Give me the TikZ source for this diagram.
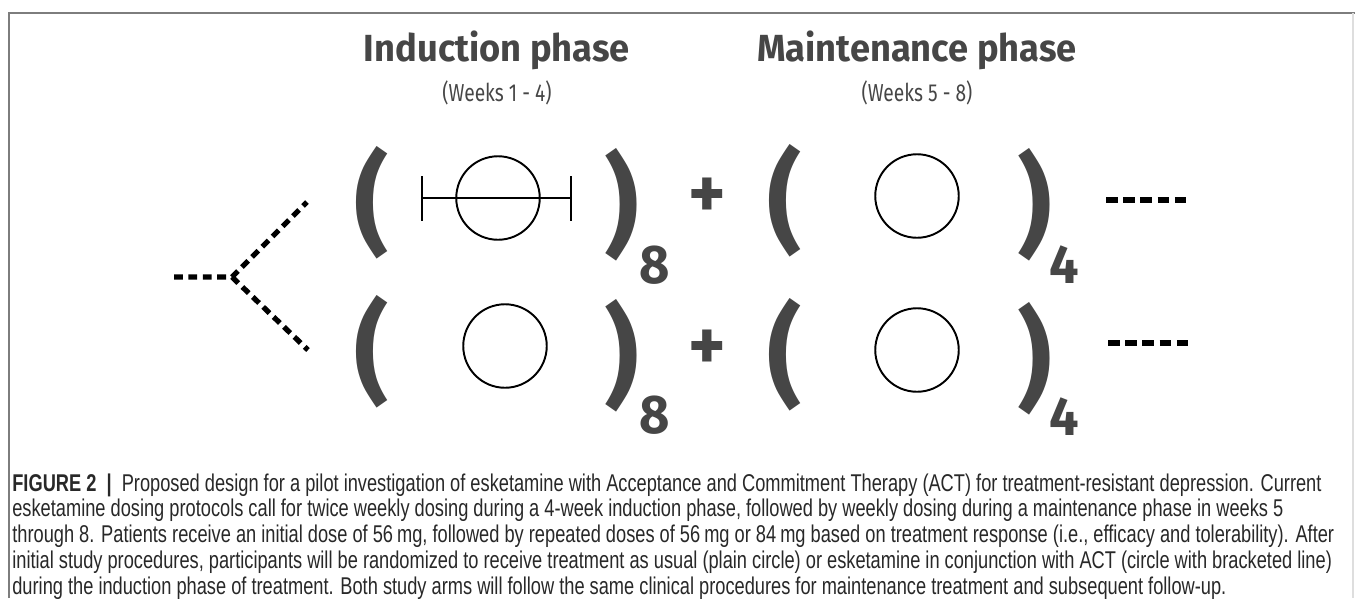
\documentclass[tikz,border=0pt]{standalone}
\usepackage{fontspec}
\setmainfont{Liberation Sans}
\newfontfamily\titlefont[FakeStretch=0.96]{Fira Sans}
\newfontfamily\weekfont[FakeStretch=0.78]{Fira Sans}
\newfontfamily\capfont[FakeStretch=0.752]{Liberation Sans}
\usetikzlibrary{positioning}
\definecolor{slate}{RGB}{70, 70, 70}
\definecolor{framegray}{RGB}{125, 125, 125}
\definecolor{edgegray}{RGB}{222, 222, 222}
\definecolor{captext}{RGB}{40, 40, 40}

\tikzset{
  phase/.style={font=\titlefont\bfseries\fontsize{21.5}{24}\selectfont, text=slate, inner sep=0pt, anchor=base},
  weeks/.style={font=\weekfont\fontsize{14}{16}\selectfont, text=slate, inner sep=0pt, anchor=base},
  paren/.style={font=\titlefont\bfseries\fontsize{63}{65}\selectfont, text=slate, inner sep=0pt},
  reps/.style={font=\titlefont\bfseries\fontsize{31}{33}\selectfont, text=slate, inner sep=0pt},
  plus/.style={font=\titlefont\bfseries\fontsize{42}{44}\selectfont, text=slate, inner sep=0pt},
  dose/.style={draw=black, line width=1.1pt, circle, minimum size=16.7mm, inner sep=0pt},
  bracket/.style={draw=black, line width=1.1pt},
  branch/.style={draw=black, line width=3pt, dash pattern=on 5pt off 3.2pt},
  tail/.style={draw=black, line width=3.4pt, dash pattern=on 6.6pt off 3.2pt},
  capline/.style={font=\capfont\fontsize{13.8}{15}\selectfont, text=captext, inner sep=0pt, anchor=base west}
}

\begin{document}
\begin{tikzpicture}[x=0.2mm, y=-0.2mm]
  \useasboundingbox (0,0) rectangle (1355,598);
  % Frame
  \draw[framegray, line width=0.8pt] (9,598) -- (9,13) -- (1355,13);
  \draw[edgegray, line width=0.8pt] (1353,13) -- (1353,598);

  % Phase headings
  \node[phase] (indTitle)  at (497, 61)  {Induction phase};
  \node[weeks] (indWeeks)  at (497, 101) {(Weeks 1 - 4)};
  \node[phase] (mntTitle)  at (917, 61)  {Maintenance phase};
  \node[weeks] (mntWeeks)  at (917, 101) {(Weeks 5 - 8)};

  % Randomization split
  \coordinate (start)  at (174, 277);
  \coordinate (split)  at (232, 277);
  \coordinate (upEnd)  at (307, 202);
  \coordinate (lowEnd) at (308, 350);
  \draw[branch] (start) -- (split) -- (upEnd);
  \draw[branch] (split) -- (lowEnd);

  % ACT arm: induction
  \node[paren] (actOpen)  at (372, 203) {(};
  \node[dose]  (actDose)  at (498, 198) {};
  \coordinate (tickL) at (422, 198);
  \coordinate (tickR) at (571, 198);
  \draw[bracket] ([yshift=4.4mm]tickL) -- ([yshift=-4.6mm]tickL);
  \draw[bracket] ([yshift=4.4mm]tickR) -- ([yshift=-4.6mm]tickR);
  \draw[bracket] (tickL) -- (tickR);
  \node[paren] (actClose) at (622, 205) {)};
  \node[reps]  (actReps)  at (655, 265) {8};
  \node[plus]  (actPlus)  at (707, 198) {+};
  % ACT arm: maintenance
  \node[paren] (actOpenM)  at (785, 201) {(};
  \node[dose]  (actDoseM)  at (917, 196) {};
  \node[paren] (actCloseM) at (1035, 205) {)};
  \node[reps]  (actRepsM)  at (1064, 265) {4};
  \coordinate (actTailA) at (1106, 200);
  \coordinate (actTailB) at (1190, 200);
  \draw[tail] (actTailA) -- (actTailB);

  % Usual-care arm: induction
  \node[paren] (tauOpen)  at (372, 352) {(};
  \node[dose]  (tauDose)  at (505, 346) {};
  \node[paren] (tauClose) at (622, 356) {)};
  \node[reps]  (tauReps)  at (655, 415) {8};
  \node[plus]  (tauPlus)  at (707, 350) {+};
  % Usual-care arm: maintenance
  \node[paren] (tauOpenM)  at (785, 355) {(};
  \node[dose]  (tauDoseM)  at (917, 350) {};
  \node[paren] (tauCloseM) at (1035, 359) {)};
  \node[reps]  (tauRepsM)  at (1064, 417) {4};
  \coordinate (tauTailA) at (1108, 343);
  \coordinate (tauTailB) at (1190, 343);
  \draw[tail] (tauTailA) -- (tauTailB);

  % Caption
  \node[capline] (cap1) at (12, 491)   {\textbf{FIGURE 2}\ \ \textbf{|}\ \ Proposed design for a pilot investigation of esketamine with Acceptance and Commitment Therapy (ACT) for treatment-resistant depression. Current};
  \node[capline] (cap2) at (12, 516.8) {esketamine dosing protocols call for twice weekly dosing during a 4-week induction phase, followed by weekly dosing during a maintenance phase in weeks 5};
  \node[capline] (cap3) at (12, 542.6) {through 8. Patients receive an initial dose of 56\,mg, followed by repeated doses of 56\,mg or 84\,mg based on treatment response (i.e., efficacy and tolerability). After};
  \node[capline] (cap4) at (12, 568.4) {initial study procedures, participants will be randomized to receive treatment as usual (plain circle) or esketamine in conjunction with ACT (circle with bracketed line)};
  \node[capline] (cap5) at (12, 594.2) {during the induction phase of treatment. Both study arms will follow the same clinical procedures for maintenance treatment and subsequent follow-up.};
\end{tikzpicture}
\end{document}
